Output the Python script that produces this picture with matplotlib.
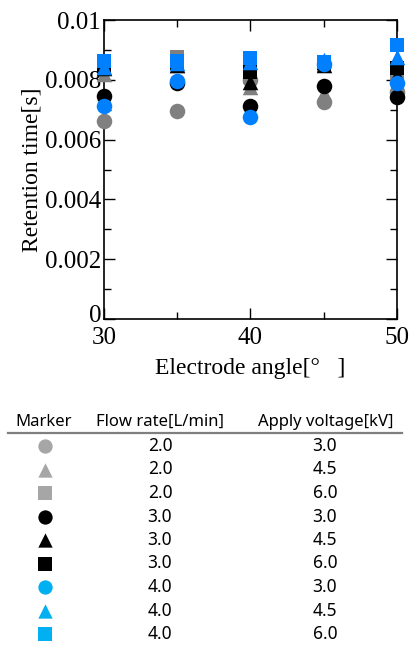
import matplotlib
matplotlib.use('Agg')
import matplotlib.pyplot as plt
import matplotlib.transforms as mtransforms
import numpy as np

angles = [30, 35, 40, 45, 50]

# retention time [s]
grey_circle = [0.00663, 0.00697, 0.00800, 0.00727, 0.00760]
grey_tri = [0.00818, 0.00850, 0.00775, 0.00755, 0.00790]
grey_sq = [0.00850, 0.00877, 0.00810, 0.00850, 0.00820]
black_circle = [0.00746, 0.00788, 0.00712, 0.00779, 0.00743]
black_tri = [0.00840, 0.00850, 0.00794, 0.00850, 0.00816]
black_sq = [0.00850, 0.00855, 0.00827, 0.00855, 0.00838]
blue_circle = [0.00712, 0.00796, 0.00677, 0.00853, 0.00788]
blue_tri = [0.00844, 0.00855, 0.00860, 0.00866, 0.00875]
blue_sq = [0.00863, 0.00862, 0.00872, 0.00858, 0.00916]

flow_rate = ['2.0', '2.0', '2.0', '3.0', '3.0', '3.0', '4.0', '4.0', '4.0']
voltage = ['3.0', '4.5', '6.0', '3.0', '4.5', '6.0', '3.0', '4.5', '6.0']

series = [grey_circle, grey_tri, grey_sq, black_circle, black_tri, black_sq,
          blue_circle, blue_tri, blue_sq]
markers = ['o', '^', 's'] * 3
plot_colors = ['#808080'] * 3 + ['#000000'] * 3 + ['#0080ff'] * 3
table_colors = ['#a6a6a6'] * 3 + ['#000000'] * 3 + ['#00b0f0'] * 3
sizes = {'o': 125, '^': 125, 's': 105}

fig = plt.figure(figsize=(4.14, 6.48), dpi=100)
ax = fig.add_axes([0.2512, 0.5077, 0.7077, 0.4614])

for vals, m, c in zip(series, markers, plot_colors):
    ax.scatter(angles, vals, marker=m, s=sizes[m], color=c, linewidths=0,
               zorder=3, clip_on=False)

ax.set_xlim(30, 50)
ax.set_ylim(0, 0.01)
ax.set_xticks([30, 40, 50])
ax.set_xticks([35, 45], minor=True)
ax.set_yticks([0, 0.002, 0.004, 0.006, 0.008, 0.01])
ax.set_yticks([0.001, 0.003, 0.005, 0.007, 0.009], minor=True)
ax.set_yticklabels(['0', '0.002', '0.004', '0.006', '0.008', '0.01'])
ax.tick_params(which='both', direction='in', top=True, right=True, width=1)
ax.tick_params(which='major', length=8, labelsize=18)
ax.tick_params(which='minor', length=5)
ax.tick_params(axis='x', pad=6)
ax.tick_params(axis='y', pad=2)
for lbl in ax.get_xticklabels() + ax.get_yticklabels():
    lbl.set_family('Liberation Serif')
# lift the "0" a bit so it does not sit on top of "30"
zero = ax.get_yticklabels()[0]
zero.set_transform(zero.get_transform() +
                   mtransforms.ScaledTranslation(0, 4 / 72, fig.dpi_scale_trans))
for sp in ax.spines.values():
    sp.set_linewidth(1.2)

ax.set_xlabel('Electrode angle[°   ]', family='Liberation Serif', fontsize=17, labelpad=6)
ax.set_ylabel('Retention time[s]', family='Liberation Serif', fontsize=17, labelpad=2)

# legend table below the chart
tab = fig.add_axes([0, 0, 1, 1])
tab.set_xlim(0, 414)
tab.set_ylim(648, 0)
tab.axis('off')

tfont = 'Noto Sans'
fs = 12
tab.text(44, 422, 'Marker', ha='center', va='center', fontsize=fs, family=tfont)
tab.text(160, 422, 'Flow rate[L/min]', ha='center', va='center', fontsize=fs, family=tfont)
tab.text(326, 422, 'Apply voltage[kV]', ha='center', va='center', fontsize=fs, family=tfont)
tab.plot([8, 402], [433, 433], color='#7f7f7f', lw=1.6)

row_y = 446 + np.arange(len(series)) * 23.5
for i in range(len(series)):
    tab.scatter([45], [row_y[i]], marker=markers[i], s=sizes[markers[i]] * 0.85,
                color=table_colors[i], linewidths=0)
    tab.text(160, row_y[i], flow_rate[i], ha='center', va='center', fontsize=12.5, family=tfont)
    tab.text(325, row_y[i], voltage[i], ha='center', va='center', fontsize=12.5, family=tfont)

fig.savefig('out.png', dpi=100)
